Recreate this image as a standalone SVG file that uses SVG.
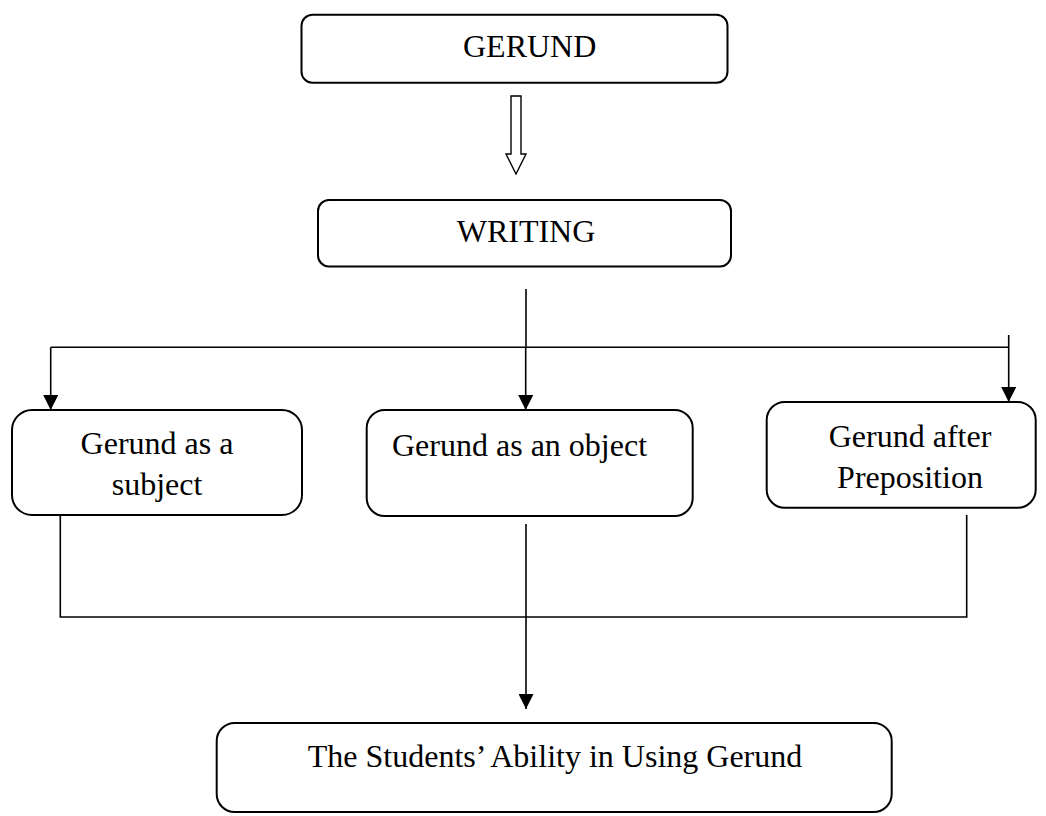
<svg xmlns="http://www.w3.org/2000/svg" width="1046" height="816" viewBox="0 0 1046 816">
<style>
.box{fill:#fff;stroke:#000;stroke-width:2}
.t{font-family:"Liberation Serif","Times New Roman",serif;font-size:32px;fill:#000}
.c{text-anchor:middle}
.ln{fill:none;stroke:#000;stroke-width:1.6}
</style>
<defs>
<marker id="ah" markerWidth="15" markerHeight="15" refX="15" refY="7.5" orient="auto" markerUnits="userSpaceOnUse">
<path d="M0,0 L15,7.5 L0,15 Z" fill="#000"/>
</marker>
</defs>
<rect width="1046" height="816" fill="#fff"/>
<g id="connectors">
<path d="M511,96 H521 V154 H526 L516,174 L506,154 H511 Z" fill="#fff" stroke="#000" stroke-width="1.4"/>
<line class="ln" x1="526" y1="289" x2="526" y2="347"/>
<line class="ln" x1="50.7" y1="347.3" x2="1009" y2="347.3"/>
<line class="ln" x1="50.7" y1="347.3" x2="50.7" y2="410" marker-end="url(#ah)"/>
<line class="ln" x1="525.7" y1="347.3" x2="525.7" y2="410" marker-end="url(#ah)"/>
<line class="ln" x1="1008.7" y1="335" x2="1008.7" y2="402" marker-end="url(#ah)"/>
<polyline class="ln" points="60.3,515 60.3,617 966.7,617 966.7,515"/>
<line class="ln" x1="526" y1="524" x2="526" y2="709" marker-end="url(#ah)"/>
</g>
<g id="gerund">
<rect class="box" x="301.5" y="14.7" width="426" height="68" rx="11"/>
<text class="t" x="463" y="56.7">GERUND</text>
</g>
<g id="writing">
<rect class="box" x="318" y="200" width="413" height="66.5" rx="11"/>
<text class="t c" x="526" y="242">WRITING</text>
</g>
<g id="subject">
<rect class="box" x="12" y="410" width="290" height="105" rx="20"/>
<text class="t c" x="157" y="454">Gerund as a</text>
<text class="t c" x="157" y="495">subject</text>
</g>
<g id="object">
<rect class="box" x="366.7" y="410" width="326" height="106" rx="18"/>
<text class="t" x="392" y="456">Gerund as an object</text>
</g>
<g id="preposition">
<rect class="box" x="766.7" y="402" width="269" height="105.7" rx="18"/>
<text class="t c" x="910" y="446.7">Gerund after</text>
<text class="t c" x="910" y="488.3">Preposition</text>
</g>
<g id="ability">
<rect class="box" x="216.7" y="723" width="675" height="89" rx="18"/>
<text class="t c" x="555" y="766.7">The Students’ Ability in Using Gerund</text>
</g>
</svg>
